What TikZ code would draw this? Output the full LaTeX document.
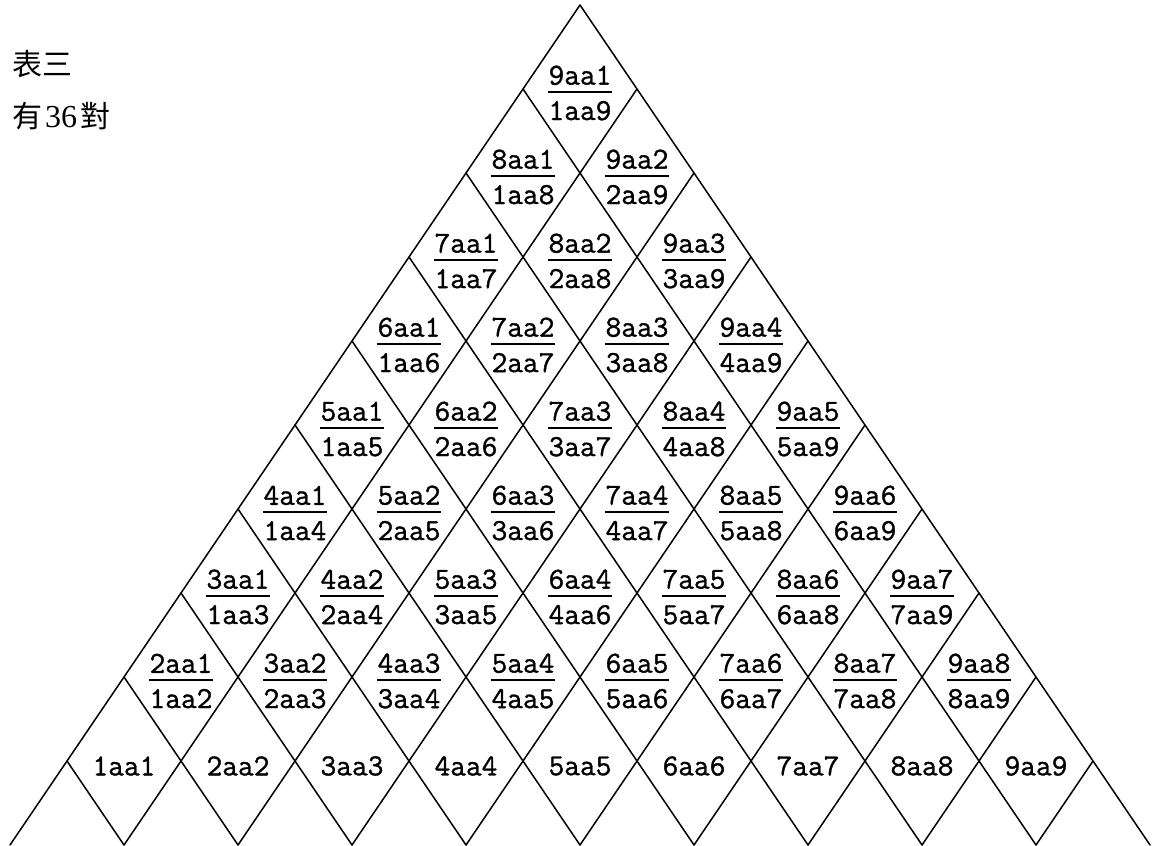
\documentclass[tikz,border=0pt]{standalone}
\usepackage{fontspec}
\newfontfamily\cjk{Noto Sans CJK TC}
\newfontfamily\tnr{Liberation Serif}
\newfontfamily\lab[FakeBold=1.2]{Latin Modern Mono}
\newcommand\fr[2]{\vbox{\hbox to 64pt{\hss#1\hss}\kern6pt\hrule height 2pt\kern8pt\hbox to 64pt{\hss#2\hss}}}
\begin{document}
\begin{tikzpicture}[x=1pt,y=-1pt,
  lattice/.style={line width=1.5pt, line cap=round},
  lbl/.style={font=\lab\fontsize{30.5}{32}\selectfont, inner sep=0pt},
  ttl/.style={anchor=base west, inner sep=0pt, font=\cjk\fontsize{30}{30}\selectfont}]
\useasboundingbox (0,0) rectangle (1155,845);
% lattice lines: from each point on the two outer edges
\foreach \k in {0,...,9} {
  \coordinate (L\k) at ({580-57*\k},{5+84*\k});
  \coordinate (R\k) at ({580+57*\k},{5+84*\k});
  \coordinate (BL\k) at ({1150-114*\k},845);
  \coordinate (BR\k) at ({10+114*\k},845);
  \draw[lattice] (L\k) -- (BL\k);
  \draw[lattice] (R\k) -- (BR\k);
}
% fraction labels
\foreach \r in {1,...,8} {
  \foreach \j in {1,...,\r} {
    \pgfmathtruncatemacro\p{9-\r+\j}
    \pgfmathsetmacro\xx{580+(2*\j-\r-1)*57}
    \pgfmathsetmacro\yy{5+84*\r+4}
    \node[lbl] (f\r-\j) at (\xx,\yy) {\fr{\p aa\j}{\j aa\p}};
  }
}
% bottom row labels
\foreach \j in {1,...,9} {
  \pgfmathsetmacro\xx{580+(2*\j-10)*57}
  \node[lbl] (d\j) at (\xx,766) {\j aa\j};
}
% title
\node[ttl] (t1) at (12,76) {表三};
\node[ttl] (t2) at (12,128) {有{\tnr\fontsize{32}{32}\selectfont\kern3pt 36\kern3pt}對};
\end{tikzpicture}
\end{document}
